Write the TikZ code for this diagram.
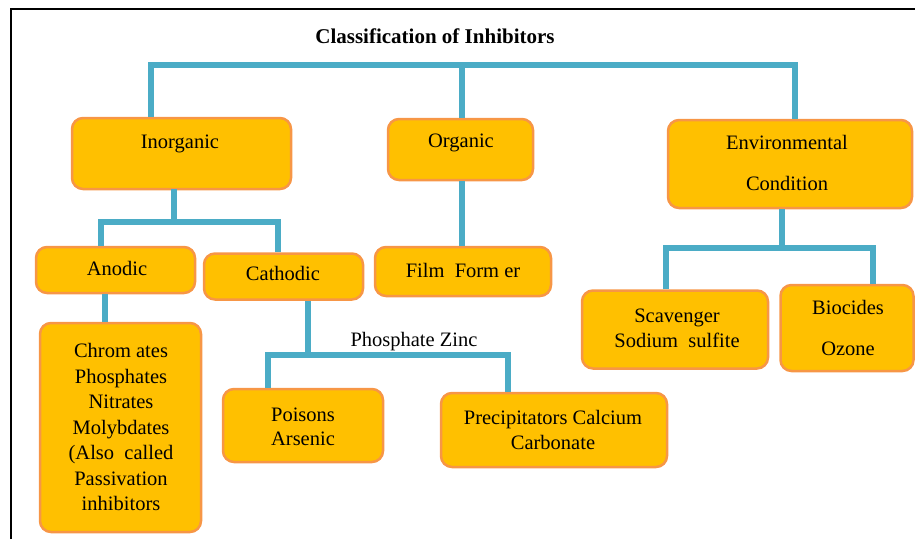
\documentclass[tikz,border=0pt]{standalone}
\usepackage{fontspec}
\setmainfont{Liberation Serif}
\definecolor{boxfill}{HTML}{FFC000}
\definecolor{boxline}{HTML}{F79646}
\definecolor{conn}{HTML}{4BACC6}
\begin{document}
\begin{tikzpicture}[x=1pt,y=-1pt,
  box/.style={draw=boxline,fill=boxfill,line width=2.5pt,rounded corners=11pt,inner sep=0pt},
  txt/.style={font=\fontsize{20.5}{25.5}\selectfont,align=center,inner sep=0pt,text height=13pt,text depth=4pt},
  txtm/.style={align=center,inner sep=0pt},
  link/.style={draw=conn,line width=6pt}]
\useasboundingbox (0,0) rectangle (915,539);
% frame
\draw[line width=2.5pt] (11,539) -- (11,9) -- (915,9);
% title
\node[txt,font=\fontsize{21}{25}\selectfont\bfseries] (title) at (435,39) {Classification of Inhibitors};
% boxes
\node[box,minimum width=219pt,minimum height=71pt] (inorg) at (181.5,153.5) {};
\node[box,minimum width=145pt,minimum height=61pt] (org) at (460.5,149.5) {};
\node[box,minimum width=244pt,minimum height=88pt] (env) at (790,164) {};
\node[box,minimum width=159pt,minimum height=46pt] (anod) at (115.5,270) {};
\node[box,minimum width=159pt,minimum height=46pt] (cath) at (283.5,276.5) {};
\node[box,minimum width=176pt,minimum height=49pt] (film) at (463,271.5) {};
\node[box,minimum width=186pt,minimum height=78pt] (scav) at (675,329.5) {};
\node[box,minimum width=133pt,minimum height=86pt] (bioc) at (847,328) {};
\node[box,minimum width=161pt,minimum height=209pt] (chrom) at (120.5,427.5) {};
\node[box,minimum width=160pt,minimum height=73pt] (pois) at (303,425.5) {};
\node[box,minimum width=226pt,minimum height=74pt] (prec) at (554,430) {};
% texts
\node[txt] (inorgT) at (180,144) {Inorganic};
\node[txt] (orgT) at (461,143) {Organic};
\node[txtm,font=\fontsize{20.5}{41}\selectfont] (envT) at (787,163) {Environmental\\Condition};
\node[txt] (anodT) at (117,271) {Anodic};
\node[txt] (cathT) at (283,276) {Cathodic};
\node[txt] (filmT) at (463,273) {Film\ \ Form er};
\node[txtm,font=\fontsize{20.5}{25}\selectfont] (scavT) at (677,328) {Scavenger\\Sodium\ \ sulfite};
\node[txtm,font=\fontsize{20.5}{41}\selectfont] (biocT) at (848,328) {Biocides\\Ozone};
\node[txtm,font=\fontsize{20.5}{25.5}\selectfont] (chromT) at (121,427) {Chrom ates\\Phosphates\\Nitrates\\Molybdates\\(Also\ \ called\\Passivation\\inhibitors};
\node[txtm,font=\fontsize{20.5}{24}\selectfont] (poisT) at (303,426.5) {Poisons\\Arsenic};
\node[txtm,font=\fontsize{20.5}{25}\selectfont] (precT) at (553,430) {Precipitators Calcium\\Carbonate};
\node[txt] (phos) at (414,342) {Phosphate Zinc};
% connectors
\coordinate (b1) at (151,65);
\coordinate (b2) at (795,65);
\draw[link] (inorg.north -| b1) -- (b1) -- (b2) -- (env.north -| b2);
\draw[link] (org.north -| 462,0) -- (462,65);
\coordinate (i1) at (101,222);
\coordinate (i2) at (278,222);
\draw[link] (174,189) -- (174,222);
\draw[link] (anod.north -| i1) -- (i1) -- (i2) -- (cath.north -| i2);
\draw[link] (anod.south -| 105,0) -- (chrom.north -| 105,0);
\draw[link] (org.south -| 462,0) -- (film.north -| 462,0);
\coordinate (e1) at (666,248);
\coordinate (e2) at (873,248);
\draw[link] (env.south -| 782,0) -- (782,248);
\draw[link] (scav.north -| e1) -- (e1) -- (e2) -- (bioc.north -| e2);
\coordinate (c1) at (268,355);
\coordinate (c2) at (508,355);
\draw[link] (cath.south -| 308,0) -- (308,355);
\draw[link] (pois.north -| c1) -- (c1) -- (c2) -- (prec.north -| c2);
\end{tikzpicture}
\end{document}
